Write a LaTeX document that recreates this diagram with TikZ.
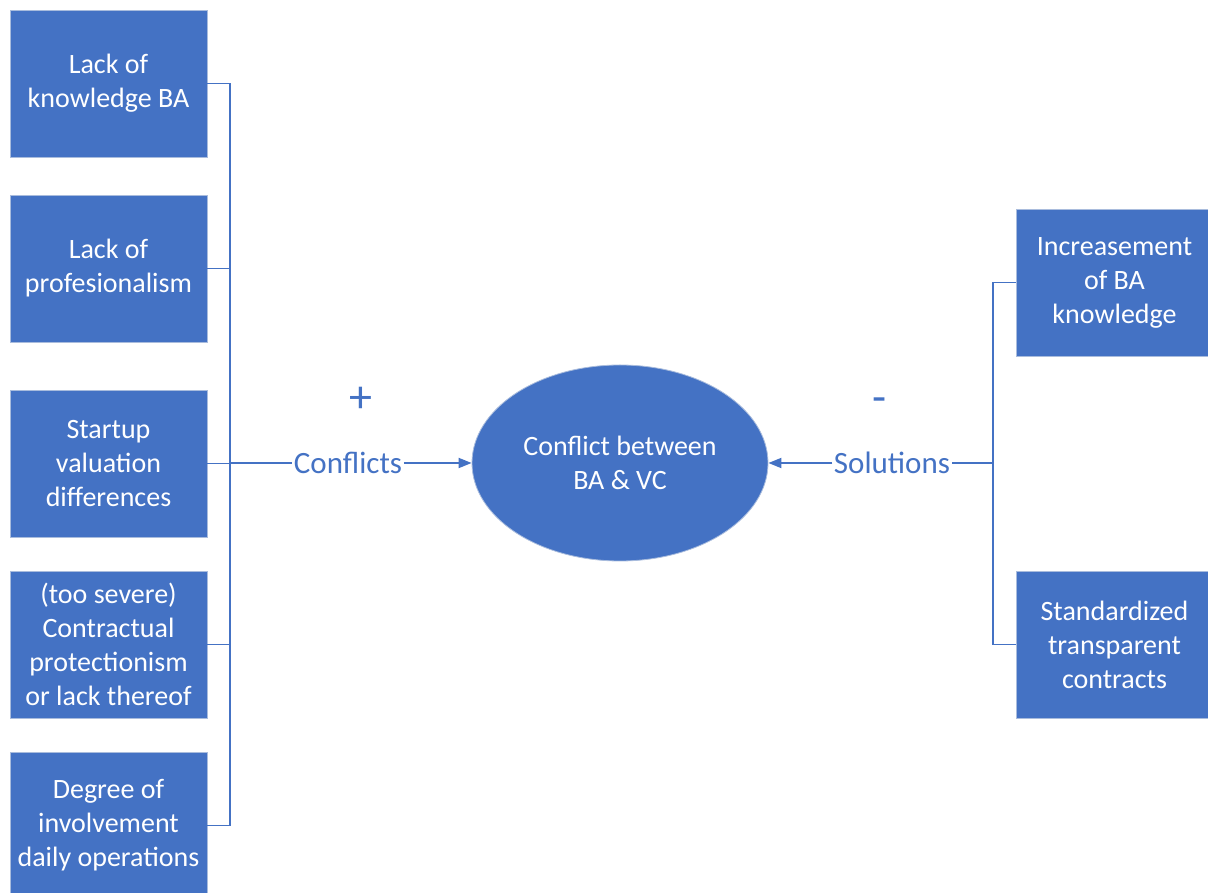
\documentclass[tikz,border=0pt]{standalone}
\usepackage{fontspec}
\setmainfont{Carlito}
\usetikzlibrary{arrows.meta,shapes.geometric}
\definecolor{accent}{HTML}{4472C4}
\definecolor{rim}{HTML}{A9BCDD}
\begin{document}
\begin{tikzpicture}[x=1pt,y=1pt,
  factor/.style={draw=rim,line width=0.8pt,fill=accent,text=white,
    minimum width=197pt,minimum height=147pt,align=center,
    font=\fontsize{28}{34}\selectfont,inner sep=0pt},
  wire/.style={draw=accent,line width=1.8pt},
  tag/.style={text=accent,font=\fontsize{31}{34}\selectfont,inner sep=1.5pt},
  sign/.style={text=accent,font=\fontsize{46}{46}\selectfont,inner sep=0pt},
  tip/.style={-{Triangle[length=13pt,width=10pt]}}]
\clip (0,0) rectangle (1208,892);
\fill[white] (0,0) rectangle (1208,892);
% causes on the left
\node[factor] (f1) at (108.5,808.5) {Lack of\\knowledge BA};
\node[factor] (f2) at (108.5,623.5) {Lack of\\profesionalism};
\node[factor] (f3) at (108.5,428.5) {Startup\\valuation\\differences};
\node[factor] (f4) at (108.5,247.5) {(too severe)\\Contractual\\protectionism\\or lack thereof};
\node[factor] (f5) at (108.5,66.5) {Degree of\\involvement\\daily operations};
% remedies on the right
\node[factor] (s1) at (1114.5,609.5) {Increasement\\of BA\\knowledge};
\node[factor] (s2) at (1114.5,247.5) {Standardized\\transparent\\contracts};
% central issue
\node[ellipse,draw=rim,line width=0.8pt,fill=accent,text=white,
  minimum width=296pt,minimum height=196pt,align=center,
  font=\fontsize{28}{34}\selectfont] (core) at (620,429) {Conflict between\\BA \& VC};
% bus lines
\coordinate (lb) at (230,429);
\coordinate (rb) at (993,429);
\node[tag] (conf) at (348,429) {Conflicts};
\node[tag] (sol) at (892,429) {Solutions};
\node[sign] (plus) at (361,492) {+};
\node[sign] (minus) at (880,487) {-};
\draw[wire] (f1.east) -- (f1.east -| lb) -- (f5.east -| lb) -- (f5.east);
\draw[wire] (f2.east) -- (f2.east -| lb);
\draw[wire] (f3.east) -- (f3.east -| lb);
\draw[wire] (f4.east) -- (f4.east -| lb);
\draw[wire] (lb) -- (conf.west);
\draw[wire,tip] (conf.east) -- (core.west);
\draw[wire] (s1.west) -- (s1.west -| rb) -- (s2.west -| rb) -- (s2.west);
\draw[wire] (rb) -- (sol.east);
\draw[wire,tip] (sol.west) -- (core.east);
\end{tikzpicture}
\end{document}
